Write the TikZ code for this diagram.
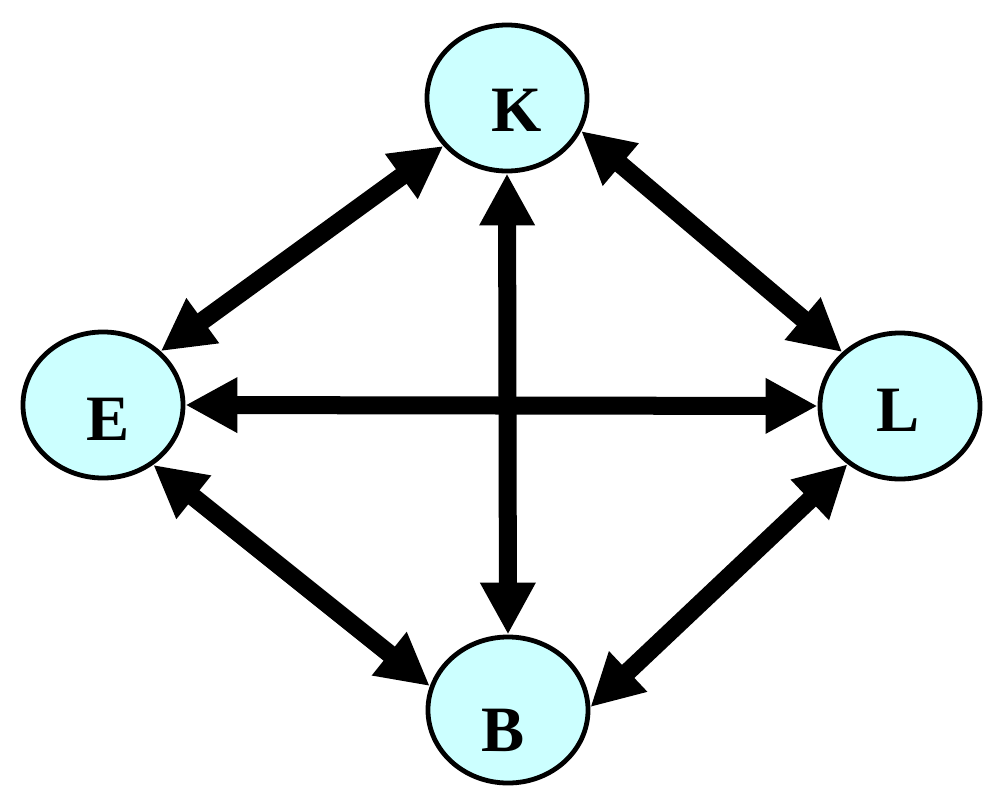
\documentclass[tikz,border=0pt]{standalone}
\usepackage{fontspec}
\setmainfont{Liberation Serif}
\usetikzlibrary{arrows.meta, shapes.geometric}

\definecolor{cyanpale}{RGB}{204,255,255}

\tikzset{
  state/.style={ellipse, draw=black, line width=0.12cm, fill=cyanpale,
    minimum width=4cm, minimum height=3.65cm, inner sep=0pt, outer sep=0.06cm},
  letter/.style={font=\fontsize{46}{50}\selectfont\bfseries},
  link/.style={line width=0.45cm,
    {Triangle[length=1.3cm,width=1.3cm]}-{Triangle[length=1.3cm,width=1.3cm]}}
}

\begin{document}
\begin{tikzpicture}[x=0.025cm,y=-0.025cm]
  \useasboundingbox[fill=white] (0,0) rectangle (1000,810);

  % the four states
  \node[state, label={[letter,xshift=0.25cm,yshift=-0.3cm]center:K}] (K) at (507,98) {};
  \node[state, label={[letter,xshift=0.12cm,yshift=-0.37cm]center:E}] (E) at (103,405) {};
  \node[state, label={[letter,xshift=-0.05cm,yshift=-0.1cm]center:L}] (L) at (900,406) {};
  \node[state, label={[letter,xshift=-0.12cm,yshift=-0.5cm]center:B}] (B) at (508,710) {};

  % outer links
  \draw[link] (E.43) -- (K.217);
  \draw[link] (K.-24) -- (L.137);
  \draw[link] (E.-50) -- (B.163);
  \draw[link] (B.2) -- (L.228);

  % cross links
  \draw[link] (E.east) -- (L.west);
  \draw[link] (K.south) -- (B.north);
\end{tikzpicture}
\end{document}
